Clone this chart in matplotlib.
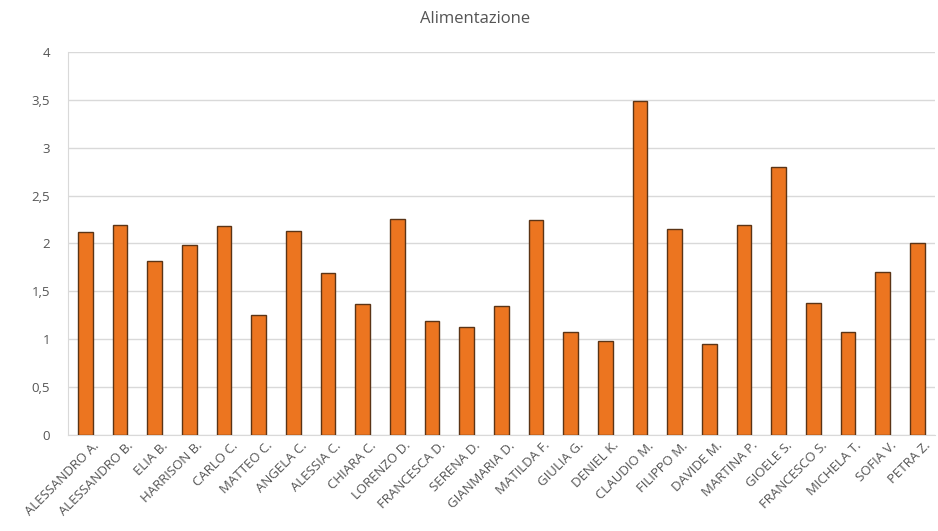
import matplotlib.pyplot as plt
import matplotlib.transforms as mtransforms
import numpy as np

# data
names = ['ALESSANDRO A.', 'ALESSANDRO B.', 'ELIA B.', 'HARRISON B.', 'CARLO C.',
         'MATTEO C.', 'ANGELA C.', 'ALESSIA C.', 'CHIARA C.', 'LORENZO D.',
         'FRANCESCA D.', 'SERENA D.', 'GIANMARIA D.', 'MATILDA F.', 'GIULIA G.',
         'DENIEL K.', 'CLAUDIO M.', 'FILIPPO M.', 'DAVIDE M.', 'MARTINA P.',
         'GIOELE S.', 'FRANCESCO S.', 'MICHELA T.', 'SOFIA V.', 'PETRA Z.']
values = [2.12, 2.19, 1.82, 1.98, 2.18,
          1.25, 2.13, 1.69, 1.37, 2.26,
          1.19, 1.13, 1.35, 2.25, 1.07,
          0.98, 3.49, 2.15, 0.95, 2.19,
          2.80, 1.38, 1.07, 1.70, 2.01]
yticks = [0, 0.5, 1, 1.5, 2, 2.5, 3, 3.5, 4]
ytick_labels = ['0', '0,5', '1', '1,5', '2', '2,5', '3', '3,5', '4']

plt.rcParams['font.family'] = ['Open Sans', 'DejaVu Sans']

fig = plt.figure(figsize=(9.38, 5.31), dpi=100)
ax = fig.add_axes([0.0725, 0.181, 0.924, 0.721])

x = np.arange(len(names))
ax.bar(x, values, width=0.43, color='#EC7520', edgecolor='#5b3416', linewidth=1.0, zorder=3)

ax.set_xlim(-0.5, len(names) - 0.5)
ax.set_ylim(0, 4)
ax.set_yticks(yticks)
ax.set_yticklabels(ytick_labels)
ax.set_xticks(x)
ax.set_xticklabels(names, rotation=45, ha='right', rotation_mode='anchor')

ax.yaxis.grid(True, color='#d9d9d9', linewidth=1.0, zorder=0)
ax.set_axisbelow(True)
for s in ['top', 'right']:
    ax.spines[s].set_visible(False)
ax.spines['left'].set_color('#d9d9d9')
ax.spines['bottom'].set_color('#d9d9d9')
ax.tick_params(axis='both', length=0, colors='#555555')
ax.tick_params(axis='y', pad=13, labelsize=9.5)
ax.tick_params(axis='x', pad=3, labelsize=9.5)

# nudge the slanted names a bit to the right, as in the reference
shift = mtransforms.ScaledTranslation(5 / 72, 0, fig.dpi_scale_trans)
for lab in ax.get_xticklabels():
    lab.set_transform(lab.get_transform() + shift)

# title centred on the whole chart area, like the spreadsheet does
fig.text(0.506, 0.965, 'Alimentazione', fontsize=12, color='#555555',
         ha='center', va='center')

fig.savefig('out.png', dpi=100)
